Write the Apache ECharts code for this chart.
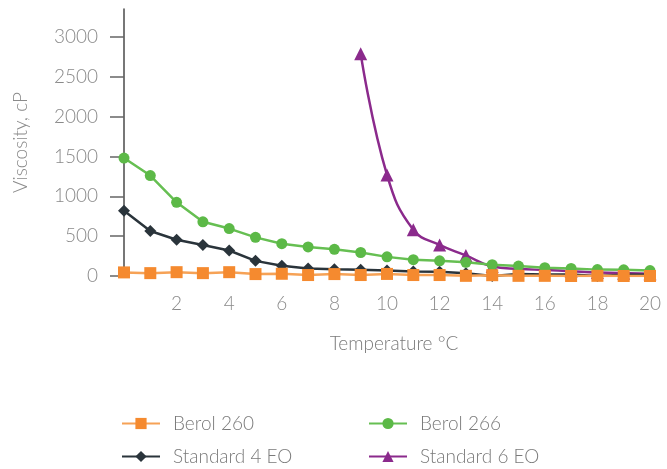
<!DOCTYPE html>
<html>
<head>
<meta charset="utf-8">
<script src="https://cdn.jsdelivr.net/npm/echarts@6/dist/echarts.min.js"></script>
<style>html,body{margin:0;padding:0;background:#fff}#c{width:667px;height:469px}</style>
</head>
<body>
<div id="c"></div>
<script>
var temps = [0,1,2,3,4,5,6,7,8,9,10,11,12,13,14,15,16,17,18,19,20];
var xTickLabels = ['2','4','6','8','10','12','14','16','18','20'];
var yTickValues = [0,500,1000,1500,2000,2500,3000];
var berol260 = [45,36,48,36,48,24,28,12,24,12,26,12,12,2,10,2,2,0,2,0,0];
var berol266 = [1480,1260,925,680,595,485,405,365,335,295,240,205,190,172,142,125,105,95,80,78,68];
var standard4EO = [820,565,455,390,320,190,128,95,85,78,68,56,52,35,0,25,20,20,0,15,15];
var standard6EO = [null,null,null,null,null,null,null,null,null,2790,1268,580,390,258,120,90,75,60,45,35,28];

function pairs(vals){ return temps.map(function(t,i){ return [t, vals[i]]; }); }

var font = 'Lato, "Open Sans", sans-serif';
var chart = echarts.init(document.getElementById('c'), null, {renderer:'canvas'});
chart.setOption({
  animation:false,
  grid:{left:124,right:17,top:9,bottom:193,containLabel:false},
  xAxis:{
    type:'value', min:0, max:20, interval:2,
    name:'Temperature °C', nameLocation:'middle', nameGap:58,
    nameTextStyle:{color:'#7a7a7a',fontSize:19,fontFamily:font,fontWeight:300,padding:[0,0,0,14]},
    axisLine:{show:false,onZero:false}, axisTick:{show:false}, splitLine:{show:false},
    axisLabel:{color:'#8a8a8a',fontSize:19,fontFamily:font,fontWeight:300,margin:18,
      formatter:function(v){ return xTickLabels.indexOf(String(v))>=0 ? String(v) : ''; }}
  },
  yAxis:{
    type:'value', min:0, max:3350, offset:2,
    name:'Viscosity, cP', nameLocation:'middle', nameGap:92,
    nameTextStyle:{color:'#8a8a8a',fontSize:19,fontFamily:font,fontWeight:300},
    axisLine:{show:true,lineStyle:{color:'#4a4a4a',width:1.5}},
    axisTick:{show:true,length:14,customValues:yTickValues,lineStyle:{color:'#666',width:1.5}},
    axisLabel:{color:'#8a8a8a',fontSize:19,fontFamily:font,fontWeight:300,margin:24,customValues:yTickValues,
      formatter:function(v){ return String(v); }},
    splitLine:{show:false}
  },
  legend:[
    {orient:'vertical',left:121,top:414,height:100,padding:0,itemWidth:38,itemHeight:14,itemGap:14,
     data:['Berol 260','Standard 4 EO'],
     textStyle:{color:'#7a7a7a',fontSize:19,fontFamily:font,fontWeight:300,padding:[0,0,0,8]}},
    {orient:'vertical',left:368,top:414,height:100,padding:0,itemWidth:38,itemHeight:14,itemGap:14,
     data:['Berol 266','Standard 6 EO'],
     textStyle:{color:'#7a7a7a',fontSize:19,fontFamily:font,fontWeight:300,padding:[0,0,0,8]}}
  ],
  series:[
    {name:'Standard 6 EO',type:'line',data:pairs(standard6EO),smooth:0.45,z:2,
     symbol:'triangle',symbolSize:13,itemStyle:{color:'#8b2a8c'},lineStyle:{color:'#8b2a8c',width:2.5}},
    {name:'Standard 4 EO',type:'line',data:pairs(standard4EO),z:3,
     symbol:'diamond',symbolSize:12,itemStyle:{color:'#2a343b'},lineStyle:{color:'#2a343b',width:2.5}},
    {name:'Berol 266',type:'line',data:pairs(berol266),z:4,
     symbol:'circle',symbolSize:11,itemStyle:{color:'#5cb947'},lineStyle:{color:'#66bf52',width:2.5}},
    {name:'Berol 260',type:'line',data:pairs(berol260),z:5,
     symbol:'rect',symbolSize:12,itemStyle:{color:'#f58a2f'},lineStyle:{color:'#f6a256',width:2.5}}
  ]
});
</script>
</body>
</html>
